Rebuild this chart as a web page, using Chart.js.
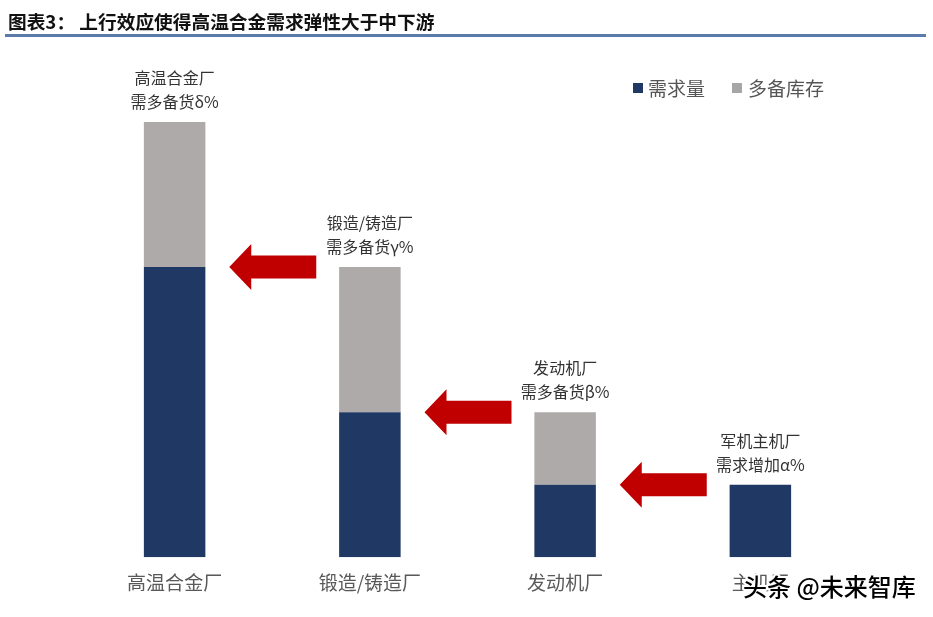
<!DOCTYPE html>
<html>
<head>
<meta charset="utf-8">
<script src="https://cdn.jsdelivr.net/npm/chart.js@4"></script>
<style>
    body { margin: 0; background: #fff; }
    #wrap { position: relative; width: 933px; height: 617px; }
    #title {
        position: absolute; left: 8px; top: 7px;
        font: bold 18.7px "Noto Sans CJK SC", sans-serif; color: #111;
        white-space: nowrap;
    }
    #rule { position: absolute; left: 5px; top: 34px; width: 921px; height: 3px; background: #5b7bab; }
</style>
</head>
<body>
<div id="wrap">
    <canvas id="chart"></canvas>
    <div id="title">图表3： 上行效应使得高温合金需求弹性大于中下游</div>
    <div id="rule"></div>
</div>
<script>
const categories = ["高温合金厂", "锻造/铸造厂", "发动机厂", "主机厂"];
const demand = [4, 2, 1, 1];
const extraStock = [2, 2, 1, 0];
const noteTitles = ["高温合金厂", "锻造/铸造厂", "发动机厂", "军机主机厂"];
const noteValues = ["需多备货δ%", "需多备货γ%", "需多备货β%", "需求增加α%"];
const seriesNames = ["需求量", "多备库存"];

const NAVY = "#203864";
const GREY = "#aeaaaa";
const FONT = '"Noto Sans CJK SC", sans-serif';

// notes above bars, red arrows between bars, legend, watermark
const extras = {
    id: "extras",
    afterDatasetsDraw(c) {
        const ctx = c.ctx;
        const x = c.scales.x, y = c.scales.y;
        ctx.save();

        // notes
        ctx.fillStyle = "#333";
        ctx.font = "16px " + FONT;
        ctx.textAlign = "center";
        ctx.textBaseline = "middle";
        for (let i = 0; i < categories.length; i++) {
            const top = y.getPixelForValue(demand[i] + extraStock[i]);
            const cx = x.getPixelForValue(i);
            ctx.fillText(noteTitles[i], cx, top - 44);
            ctx.fillText(noteValues[i], cx, top - 20);
        }

        // arrows pointing left
        ctx.fillStyle = "#c00000";
        for (let i = 0; i < categories.length - 1; i++) {
            const mid = (x.getPixelForValue(i) + x.getPixelForValue(i + 1)) / 2;
            const cy = y.getPixelForValue(demand[i]);
            const tip = mid - 43, tail = mid + 44, base = tip + 22;
            ctx.beginPath();
            ctx.moveTo(tip, cy);
            ctx.lineTo(base, cy - 23);
            ctx.lineTo(base, cy - 11.5);
            ctx.lineTo(tail, cy - 11.5);
            ctx.lineTo(tail, cy + 11.5);
            ctx.lineTo(base, cy + 11.5);
            ctx.lineTo(base, cy + 23);
            ctx.closePath();
            ctx.fill();
        }

        // legend
        ctx.textAlign = "left";
        ctx.font = "19px " + FONT;
        ctx.fillStyle = NAVY;
        ctx.fillRect(633, 83, 10, 10);
        ctx.fillStyle = "#a6a6a6";
        ctx.fillRect(732, 83, 10, 10);
        ctx.fillStyle = "#555";
        ctx.fillText(seriesNames[0], 648, 89);
        ctx.fillText(seriesNames[1], 748, 89);
        ctx.restore();
    },
    afterDraw(c) {
        const ctx = c.ctx;
        ctx.save();
        ctx.font = "500 24px " + FONT;
        ctx.textAlign = "left";
        ctx.textBaseline = "middle";
        ctx.lineWidth = 4;
        ctx.strokeStyle = "#fff";
        ctx.lineJoin = "round";
        ctx.strokeText("头条 @未来智库", 743, 587);
        ctx.fillStyle = "#000";
        ctx.fillText("头条 @未来智库", 743, 587);
        ctx.restore();
    }
};

new Chart(document.getElementById("chart"), {
    type: "bar",
    data: {
        labels: categories,
        datasets: [
            { label: seriesNames[0], data: demand, backgroundColor: NAVY },
            { label: seriesNames[1], data: extraStock, backgroundColor: GREY }
        ]
    },
    options: {
        responsive: true,
        maintainAspectRatio: false,
        animation: false,
        layout: { padding: { left: 77, right: 75, top: 49.5, bottom: 17 } },
        datasets: { bar: { categoryPercentage: 1, barPercentage: 0.315 } },
        plugins: { legend: { display: false }, tooltip: { enabled: false } },
        scales: {
            x: {
                stacked: true,
                grid: { display: false },
                border: { display: false },
                ticks: { color: "#595959", padding: 6, font: { family: FONT, size: 19 } }
            },
            y: { stacked: true, display: false, min: 0, max: 7 }
        }
    },
    plugins: [extras]
});
</script>
</body>
</html>
